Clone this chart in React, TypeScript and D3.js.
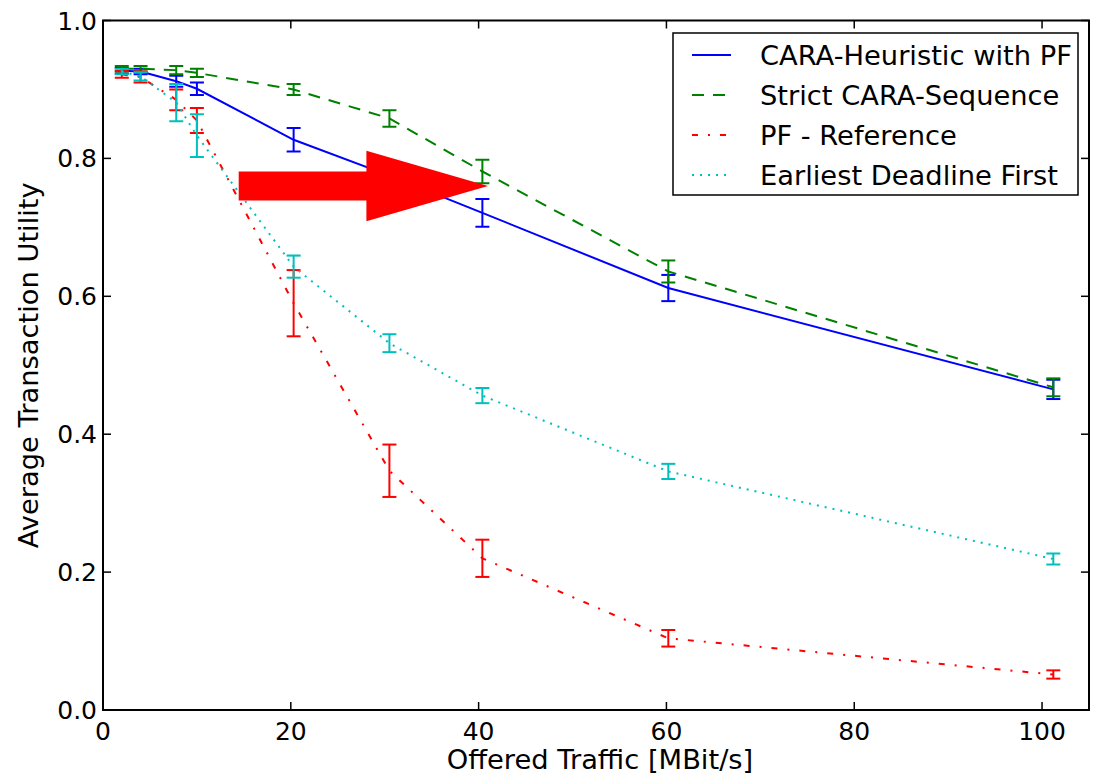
import React from "react";
import * as d3 from "d3";

const xValues = [2, 4, 7.8, 10, 20.3, 30.5, 40.4, 60.2, 101.2];
const caraHeuristic = [0.927, 0.926, 0.912, 0.901, 0.827, 0.775, 0.721, 0.612, 0.465];
const caraHeuristicErr = [0.004, 0.004, 0.008, 0.009, 0.017, 0.018, 0.02, 0.019, 0.014];
const strictCara = [0.93, 0.93, 0.928, 0.924, 0.9, 0.858, 0.781, 0.636, 0.468];
const strictCaraErr = [0.004, 0.004, 0.006, 0.006, 0.008, 0.012, 0.017, 0.016, 0.013];
const pfReference = [0.922, 0.918, 0.885, 0.855, 0.59, 0.347, 0.22, 0.104, 0.0515];
const pfReferenceErr = [0.005, 0.008, 0.015, 0.018, 0.048, 0.038, 0.027, 0.012, 0.006];
const edf = [0.926, 0.919, 0.881, 0.833, 0.643, 0.532, 0.456, 0.346, 0.219];
const edfErr = [0.004, 0.006, 0.027, 0.031, 0.016, 0.013, 0.011, 0.011, 0.008];

const seriesNames = [
  "CARA-Heuristic with PF",
  "Strict CARA-Sequence",
  "PF - Reference",
  "Earliest Deadline First",
];
const xTicks = [0, 20, 40, 60, 80, 100];
const yTicks = [0, 0.2, 0.4, 0.6, 0.8, 1.0];

// arrow annotation (data coordinates)
const arrowStart = [14.45, 0.76];
const arrowTipX = 41.0;
const arrowHeadBaseX = 28.05;
const arrowShaftHalf = 0.021;
const arrowHeadHalf = 0.051;

const W = 1097;
const H = 775;
const left = 103;
const right = 1089;
const top = 20.5;
const bottom = 710;

const series = [
  { name: seriesNames[0], y: caraHeuristic, e: caraHeuristicErr, color: "#0000ff", dash: "none" },
  { name: seriesNames[1], y: strictCara, e: strictCaraErr, color: "#008000", dash: "12,9" },
  { name: seriesNames[2], y: pfReference, e: pfReferenceErr, color: "#ff0000", dash: "6,10,2,10" },
  { name: seriesNames[3], y: edf, e: edfErr, color: "#00bfbf", dash: "2,6" },
];

export default function App() {
  const x = d3.scaleLinear().domain([0, 105]).range([left, right]);
  const y = d3.scaleLinear().domain([0, 1]).range([bottom, top]);
  const line = d3
    .line<[number, number]>()
    .x((d) => x(d[0]))
    .y((d) => y(d[1]));
  const font = "DejaVu Sans, sans-serif";
  const cap = 7;
  const tickFont = 25;
  const labelFont = 27.3;

  const ax = x(arrowStart[0]);
  const ay = y(arrowStart[1]);
  const hb = x(arrowHeadBaseX);
  const tip = x(arrowTipX);
  const sh = y(arrowStart[1] - arrowShaftHalf) - ay;
  const hh = y(arrowStart[1] - arrowHeadHalf) - ay;
  const arrowPts = [
    [ax, ay - sh],
    [hb, ay - sh],
    [hb, ay - hh],
    [tip, ay],
    [hb, ay + hh],
    [hb, ay + sh],
    [ax, ay + sh],
  ];

  const legX = 673;
  const legY = 33;
  const legW = 405;
  const legH = 162;

  return (
    <svg
      width={W}
      height={H}
      style={{ position: "absolute", left: 0, top: 0, background: "#fff" }}
      fontFamily={font}
    >
      <rect x={0} y={0} width={W} height={H} fill="#fff" />
      <defs>
        <clipPath id="plotclip">
          <rect x={left} y={top} width={right - left} height={bottom - top} />
        </clipPath>
      </defs>
      <g clipPath="url(#plotclip)">
        {series.map((s) => (
          <g key={s.name}>
            <path
              d={line(xValues.map((xv, i) => [xv, s.y[i]] as [number, number])) || ""}
              fill="none"
              stroke={s.color}
              strokeWidth={2}
              strokeDasharray={s.dash}
            />
            {xValues.map((xv, i) => {
              const cx = x(xv);
              const y1 = y(s.y[i] + s.e[i]);
              const y2 = y(s.y[i] - s.e[i]);
              return (
                <g key={i} stroke={s.color} strokeWidth={2}>
                  <line x1={cx} x2={cx} y1={y1} y2={y2} />
                  <line x1={cx - cap} x2={cx + cap} y1={y1} y2={y1} />
                  <line x1={cx - cap} x2={cx + cap} y1={y2} y2={y2} />
                </g>
              );
            })}
          </g>
        ))}
        <polygon points={arrowPts.map((p) => p.join(",")).join(" ")} fill="#ff0000" />
      </g>

      {/* frame */}
      <rect
        x={left}
        y={top}
        width={right - left}
        height={bottom - top}
        fill="none"
        stroke="#000"
        strokeWidth={2}
      />
      {xTicks.map((t) => (
        <g key={"xt" + t}>
          <line x1={x(t)} x2={x(t)} y1={bottom} y2={bottom - 8} stroke="#000" strokeWidth={1.5} />
          <line x1={x(t)} x2={x(t)} y1={top} y2={top + 8} stroke="#000" strokeWidth={1.5} />
          <text x={x(t)} y={740} textAnchor="middle" fontSize={tickFont} fill="#000">
            {t}
          </text>
        </g>
      ))}
      {yTicks.map((t) => (
        <g key={"yt" + t}>
          <line x1={left} x2={left + 8} y1={y(t)} y2={y(t)} stroke="#000" strokeWidth={1.5} />
          <line x1={right} x2={right - 8} y1={y(t)} y2={y(t)} stroke="#000" strokeWidth={1.5} />
          <text x={97} y={y(t)} dy="0.36em" textAnchor="end" fontSize={tickFont} fill="#000">
            {t.toFixed(1)}
          </text>
        </g>
      ))}
      <text x={600} y={769} textAnchor="middle" fontSize={labelFont} fill="#000">
        Offered Traffic [MBit/s]
      </text>
      <text
        transform={`translate(38, ${(top + bottom) / 2}) rotate(-90)`}
        textAnchor="middle"
        fontSize={labelFont}
        fill="#000"
      >
        Average Transaction Utility
      </text>

      {/* legend */}
      <rect x={legX} y={legY} width={legW} height={legH} fill="#fff" stroke="#000" strokeWidth={1.5} />
      {series.map((s, i) => {
        const ry = 55 + i * 40;
        return (
          <g key={"lg" + i}>
            <line
              x1={692}
              x2={731}
              y1={ry}
              y2={ry}
              stroke={s.color}
              strokeWidth={2}
              strokeDasharray={s.dash}
            />
            <text x={760} y={ry} dy="0.36em" fontSize={labelFont} fill="#000">
              {s.name}
            </text>
          </g>
        );
      })}
    </svg>
  );
}
